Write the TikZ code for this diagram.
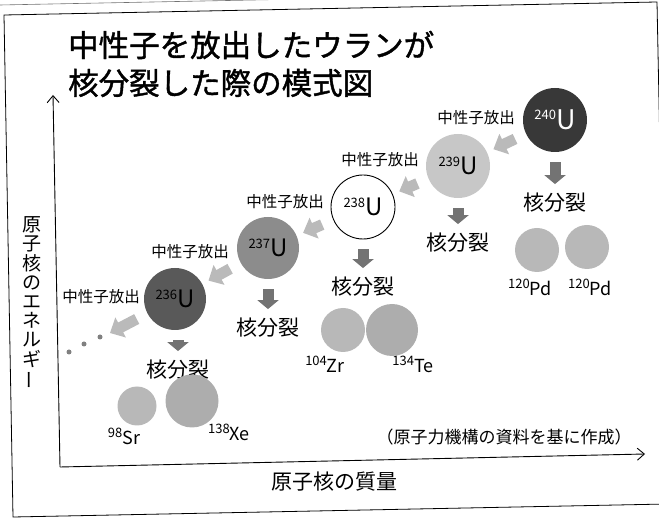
\documentclass[tikz,border=0pt]{standalone}
\usepackage{fontspec}
\setmainfont{Noto Sans CJK JP}
\newfontfamily\titlefont{Noto Sans CJK JP}[FakeBold=1.3]
\usetikzlibrary{arrows.meta}
\newcommand\nuc[2]{\raisebox{0.36em}{\fontsize{13}{13}\selectfont #1}#2}
\newcommand\pnuc[2]{\raisebox{0.38em}{\fontsize{13}{13}\selectfont #1}#2}
\tikzset{
  nucleus/.style={circle, inner sep=0pt, font=\fontsize{24}{24}\selectfont},
  emit/.style={font=\fontsize{15.5}{16}\selectfont, inner sep=0pt},
  fis/.style={font=\fontsize{21}{22}\selectfont, inner sep=0pt},
  prod/.style={circle, inner sep=0pt, fill=black!28},
  plabel/.style={font=\fontsize{18}{18}\selectfont, inner sep=0pt},
  sidearrow/.style={line width=11pt, black!27, -{Triangle[length=12pt,width=22pt]}, shorten <=12pt, shorten >=7pt},
  downarrow/.style={line width=11pt, black!55, -{Triangle[length=9pt,width=21pt]}, shorten <=10pt, shorten >=9pt},
  axis/.style={line width=0.9pt, -{Straight Barb[length=7pt,width=12pt]}},
}
\begin{document}
\begin{tikzpicture}[x=1pt,y=-1pt]
\useasboundingbox (0,0) rectangle (659,518);
% frame (scan is slightly tilted)
\draw[black!55, line width=0.6pt] (0,5) -- (659,-8);
\draw[line width=0.8pt] (4,15) -- (657,2) -- (667,504) -- (13,517) -- cycle;
% title
\node[anchor=west, inner sep=0pt, font=\fontsize{30.5}{30.5}\selectfont\titlefont] (t1) at (68,45) {中性子を放出したウランが};
\node[anchor=west, inner sep=0pt, font=\fontsize{30.5}{30.5}\selectfont\titlefont] (t2) at (68,83) {核分裂した際の模式図};
% axes
\coordinate (o) at (60,467);
\coordinate (ytip) at (53,95);
\coordinate (xtip) at (645,454);
\draw[axis] (o) -- (ytip);
\draw[axis] (o) -- (xtip);
\node[inner sep=0pt, align=center, font=\fontsize{19}{19.2}\selectfont] (ylab) at (32,292) {原\\子\\核\\の\\エ\\ネ\\ル\\ギ};
\node[inner sep=0pt, rotate=90, font=\fontsize{19}{19}\selectfont] (ylab2) at (32,380) {ー};
\node[inner sep=0pt, font=\fontsize{21}{22}\selectfont] (xlab) at (334,482) {原子核の質量};
\node[inner sep=0pt, font=\fontsize{17}{17}\selectfont] (src) at (504,437) {（原子力機構の資料を基に作成）};
% uranium nuclei
\node[nucleus, minimum size=64pt, fill=black!78, text=white, font=\fontsize{27}{27}\selectfont] (u240) at (555,120) {\nuc{240}{U}};
\node[nucleus, minimum size=64pt, fill=black!22] (u239) at (458,166) {\nuc{239}{U}};
\node[nucleus, minimum size=64pt, fill=white, draw=black, line width=0.9pt] (u238) at (363,207) {\nuc{238}{U}};
\node[nucleus, minimum size=62pt, fill=black!45] (u237) at (268,248) {\nuc{237}{U}};
\node[nucleus, minimum size=62pt, fill=black!65] (u236) at (175,299) {\nuc{236}{U}};
% emission labels
\node[emit] (e240) at (476,118) {中性子放出};
\node[emit] (e239) at (380,160) {中性子放出};
\node[emit] (e238) at (285,202) {中性子放出};
\node[emit] (e237) at (190,252) {中性子放出};
\node[emit] (e236) at (101,297) {中性子放出};
% emission arrows
\coordinate (tail) at (110,333);
\draw[sidearrow] (u240) -- (u239);
\draw[sidearrow] (u239) -- (u238);
\draw[sidearrow] (u238) -- (u237);
\draw[sidearrow] (u237) -- (u236);
\draw[sidearrow, shorten >=0pt] (u236) -- (tail);
\fill[black!50] (69,352) circle (2.5pt) (84,344) circle (2.5pt) (100,337) circle (2.5pt);
% fission labels
\node[fis] (f240) at (555,203) {核分裂};
\node[fis] (f239) at (458,243) {核分裂};
\node[fis] (f238) at (363,287) {核分裂};
\node[fis] (f237) at (268,328) {核分裂};
\node[fis] (f236) at (178,370) {核分裂};
\draw[downarrow] (u240) -- (f240);
\draw[downarrow] (u239) -- (f239);
\draw[downarrow] (u238) -- (f238);
\draw[downarrow] (u237) -- (f237);
\draw[downarrow] ([xshift=3pt]u236.south) -- ([xshift=0pt]f236.north);
% products
\node[prod, minimum size=44pt] (pd1) at (537,250) {};
\node[prod, minimum size=44pt] (pd2) at (587,247) {};
\node[prod, minimum size=44pt] (zr) at (343,330) {};
\node[prod, minimum size=52pt, fill=black!32] (te) at (392,330) {};
\node[prod, minimum size=39pt] (sr) at (137,406) {};
\node[prod, minimum size=53pt, fill=black!32] (xe) at (192,401) {};
\node[plabel] (lpd1) at (530,287) {\pnuc{120}{Pd}};
\node[plabel] (lpd2) at (590,287) {\pnuc{120}{Pd}};
\node[plabel] (lzr) at (325,364) {\pnuc{104}{Zr}};
\node[plabel] (lte) at (413,364) {\pnuc{134}{Te}};
\node[plabel] (lsr) at (124,436) {\pnuc{98}{Sr}};
\node[plabel] (lxe) at (229,432) {\pnuc{138}{Xe}};
\end{tikzpicture}
\end{document}
